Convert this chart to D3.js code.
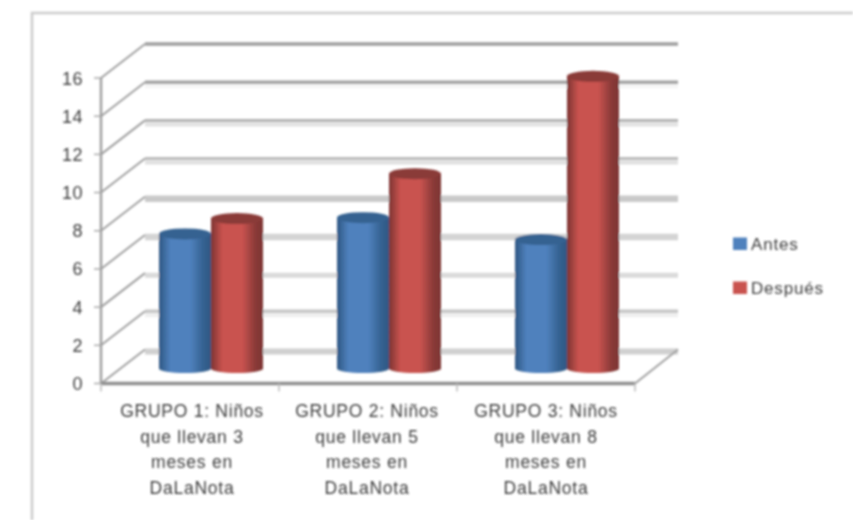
<!DOCTYPE html>
<html><head><meta charset="utf-8">
<script src="https://cdn.jsdelivr.net/npm/d3@7"></script>
<style>html,body{margin:0;padding:0;background:#fff}svg{display:block}text{font-family:"Liberation Sans",Arial,sans-serif}</style>
</head><body><svg id="c" width="853" height="520"></svg>
<script>
const categories=[["GRUPO 1: Niños","que llevan 3","meses en","DaLaNota"],["GRUPO 2: Niños","que llevan 5","meses en","DaLaNota"],["GRUPO 3: Niños","que llevan 8","meses en","DaLaNota"]];
const seriesNames=["Antes","Después"];
const antes=[7.05,7.9,6.75];
const despues=[7.85,10.2,15.3];
const ticks=[0,2,4,6,8,10,12,14,16];
const colors={Antes:["#2f5783","#4f81bd","#356291"],"Después":["#7c3432","#c9534f","#8a3a38"]};
const gridStyle={16:["#9f9f9f",3.5],14:["#a3a3a3",3.5],12:["#b3b3b3",3],10:["#bcbcbc",3],8:["#c9c9c9",6.5],6:["#d4d4d4",6.5],4:["#dadada",5],2:["#c6c6c6",3.5],0:["#d0d0d0",6]};
const bandStyle={14:"#f5f5f5",12:"#e2e2e2",10:"#e0e0e0",2:"#efefef"};

const svg=d3.select("#c");
const defs=svg.append("defs");
function mkBlur(id,sd){
  defs.append("filter").attr("id",id).attr("filterUnits","userSpaceOnUse").attr("x",0).attr("y",0).attr("width",853).attr("height",520)
   .append("feGaussianBlur").attr("stdDeviation",sd);
}
mkBlur("b",1.0);mkBlur("t",0.95);
seriesNames.forEach((s,i)=>{
  const g=defs.append("linearGradient").attr("id","g"+i);
  [[0,colors[s][0]],[.22,colors[s][1]],[.6,colors[s][1]],[.85,colors[s][2]],[1,colors[s][0]]].forEach(([o,c])=>g.append("stop").attr("offset",o).attr("stop-color",c));
});
const root=svg.append("g").attr("filter","url(#b)");
root.append("path").attr("d","M853 13H32V520").attr("fill","none").attr("stroke","#cccccc").attr("stroke-width",2.5);

const y=d3.scaleLinear().domain([0,16]).range([383.5,78]);
const dx=44,dy=-34;
const x0=d3.scaleBand().domain([0,1,2]).range([101,635]);
const grid=root.append("g");
ticks.forEach(t=>{
  const yy=y(t),st=gridStyle[t];
  if(bandStyle[t])grid.append("line").attr("x1",101+dx).attr("x2",678).attr("y1",yy+dy+4).attr("y2",yy+dy+4).attr("stroke",bandStyle[t]).attr("stroke-width",4);
  grid.append("line").attr("x1",101+dx).attr("x2",678).attr("y1",yy+dy+(st[1]>4?2:0)).attr("y2",yy+dy+(st[1]>4?2:0)).attr("stroke",st[0]).attr("stroke-width",st[1]);
  grid.append("line").attr("x1",101).attr("x2",101+dx).attr("y1",yy).attr("y2",yy+dy).attr("stroke","#a0a0a0").attr("stroke-width",2);
  grid.append("line").attr("x1",94).attr("x2",101).attr("y1",yy).attr("y2",yy).attr("stroke","#aaa").attr("stroke-width",1.5);
});
const axis=root.append("g");
axis.append("line").attr("x1",101).attr("x2",101).attr("y1",y(16)).attr("y2",y(0)).attr("stroke","#a0a0a0").attr("stroke-width",2.5);
axis.append("line").attr("x1",101).attr("x2",635).attr("y1",y(0)).attr("y2",y(0)).attr("stroke","#8f8f8f").attr("stroke-width",3.5);
axis.append("line").attr("x1",635).attr("x2",678).attr("y1",y(0)).attr("y2",y(0)+dy).attr("stroke","#a0a0a0").attr("stroke-width",2);
[0,1,2,3].forEach(i=>{const px=101+i*x0.step();axis.append("line").attr("x1",px).attr("x2",px).attr("y1",y(0)).attr("y2",y(0)+8).attr("stroke","#bbb").attr("stroke-width",1.5);});

const base=368.5, unit=(y(0)-y(16))/16;
const yBar=d3.scaleLinear().domain([0,16]).range([base,base-16*unit]);
const bw=52, rx=bw/2, ryTop=5.5, ryBottom=4.5;
const sub=d3.scaleBand().domain(seriesNames).range([0,bw*2]);
const offset=58;
const bars=root.append("g");
categories.forEach((c,i)=>{
  seriesNames.forEach((s,j)=>{
    const v=(j===0?antes:despues)[i];
    const l=x0(i)+offset+sub(s), r=l+bw, t=yBar(v);
    bars.append("path").attr("d",`M${l} ${t}V${base}A${rx} ${ryBottom} 0 0 0 ${r} ${base}V${t}Z`).attr("fill",`url(#g${j})`);
    bars.append("ellipse").attr("cx",l+rx).attr("cy",t).attr("rx",rx).attr("ry",ryTop).attr("fill",colors[s][2]);
  });
});

const labels=svg.append("g").attr("filter","url(#t)").attr("fill","#3d3d3d");
ticks.forEach(t=>labels.append("text").attr("x",83).attr("y",y(t)+6.5).attr("text-anchor","end").attr("font-size",18).attr("letter-spacing",.5).text(t));
categories.forEach((c,i)=>{
  c.forEach((ln,k)=>labels.append("text").attr("x",x0(i)+x0.step()/2+(i===0?2:i===1?-1:0)).attr("y",417+k*25.7).attr("text-anchor","middle").attr("font-size",17.5).attr("letter-spacing",.75).text(ln));
});
const lg=[244,288];
seriesNames.forEach((s,i)=>{
  root.append("rect").attr("x",733).attr("y",lg[i]-6.5).attr("width",14).attr("height",12.5).attr("fill",colors[s][1]);
  labels.append("text").attr("x",751).attr("y",lg[i]+6).attr("font-size",17).attr("letter-spacing",.8).text(s);
});
</script></body></html>
